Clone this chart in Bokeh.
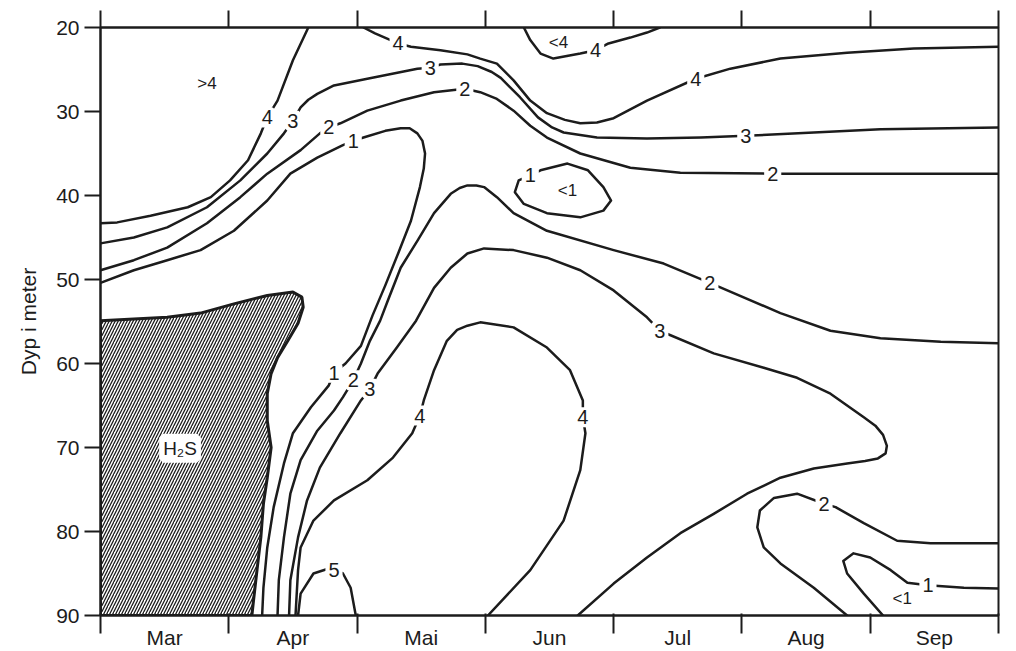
from bokeh.plotting import figure
from bokeh.models import Range1d, FixedTicker, LinearAxis, ColumnDataSource, LabelSet, Label
from bokeh.core.properties import value
from bokeh.embed import file_html
from bokeh.resources import INLINE

# ---------------- data ----------------
months = ["Mar", "Apr", "Mai", "Jun", "Jul", "Aug", "Sep"]
depth_ticks = [20, 30, 40, 50, 60, 70, 80, 90]

# isolines: x in months since 1 March (0..7), d = depth in metres
iso4_left_x = [1.62, 1.50, 1.38, 1.30, 1.25, 1.15, 1.01, 0.86, 0.68, 0.39, 0.13, 0.0]
iso4_left_d = [20.0, 23.9, 28.7, 30.7, 32.6, 35.8, 38.2, 40.2, 41.4, 42.4, 43.2, 43.3]

iso3_top_x = [0.0, 0.26, 0.52, 0.83, 1.09, 1.30, 1.43, 1.50, 1.56, 1.62, 1.69, 1.82, 2.08, 2.47, 2.57,
              2.65, 2.82, 2.94, 3.05, 3.12, 3.27, 3.41, 3.52, 3.61, 3.87, 4.26, 4.68, 5.03, 5.56, 6.08, 7.0]
iso3_top_d = [45.7, 45.0, 43.8, 41.4, 38.2, 35.0, 32.6, 31.1, 29.5, 28.6, 27.9, 26.9, 26.1, 24.9, 24.8,
              24.4, 24.3, 24.6, 25.3, 26.0, 28.3, 30.7, 31.9, 32.5, 33.1, 33.2, 33.1, 32.9, 32.5, 32.1, 31.9]

iso2_top_x = [0.0, 0.26, 0.52, 0.83, 1.09, 1.30, 1.56, 1.71, 1.78, 1.87, 2.08, 2.34, 2.60, 2.84,
              2.96, 3.09, 3.22, 3.35, 3.48, 3.74, 4.13, 4.52, 5.24, 7.0]
iso2_top_d = [48.9, 47.7, 46.2, 43.3, 40.2, 37.4, 34.6, 32.6, 31.9, 31.4, 29.9, 28.7, 27.7, 27.3,
              27.7, 28.5, 29.9, 31.7, 33.1, 35.0, 36.7, 37.3, 37.4, 37.4]

iso1_big_x = [0.0, 0.26, 0.52, 0.78, 1.04, 1.30, 1.48, 1.69, 1.89, 1.97, 2.05, 2.22, 2.34, 2.41, 2.47,
              2.51, 2.53, 2.52, 2.49, 2.42, 2.32, 2.22, 2.12, 2.03, 1.91, 1.82, 1.78, 1.64, 1.50,
              1.43, 1.35, 1.30, 1.27, 1.26]
iso1_big_d = [50.4, 48.9, 47.7, 46.5, 44.2, 40.6, 37.4, 35.5, 34.0, 33.5, 33.1, 32.3, 32.0, 32.0, 32.6,
              33.5, 35.0, 36.8, 39.0, 43.0, 46.9, 50.7, 54.3, 57.9, 60.0, 61.1, 62.6, 65.2, 68.3,
              71.9, 77.1, 81.9, 86.7, 90.0]

iso2_mid_x = [1.38, 1.39, 1.43, 1.48, 1.56, 1.69, 1.82, 1.89, 1.97, 2.03, 2.10, 2.18, 2.24, 2.34,
              2.47, 2.60, 2.73, 2.80, 2.86, 2.93, 2.99, 3.09, 3.22, 3.48, 4.00, 4.39, 4.75, 5.30, 5.69, 6.08,
              6.55, 7.0]
iso2_mid_d = [90.0, 85.8, 80.7, 75.5, 71.5, 68.0, 65.6, 64.0, 62.0, 60.0, 57.3, 54.9, 52.5, 48.6,
              45.4, 42.1, 39.8, 39.1, 38.8, 38.8, 39.0, 40.2, 42.1, 44.2, 46.5, 48.1, 50.4, 54.0, 56.1, 57.0,
              57.4, 57.6]

iso3_mid_x = [1.47, 1.48, 1.54, 1.61, 1.71, 1.87, 2.03, 2.10, 2.16, 2.31, 2.46, 2.60, 2.73, 2.86,
              2.99, 3.22, 3.48, 3.74, 4.00, 4.26, 4.36, 4.78, 5.17, 5.43, 5.69, 5.95, 6.04, 6.10, 6.13,
              6.12, 6.06, 5.96, 5.82, 5.56, 5.30, 5.04, 4.78, 4.52, 4.26, 4.00, 3.72]
iso3_mid_d = [90.0, 85.8, 80.7, 76.3, 72.4, 68.3, 64.4, 63.0, 61.2, 58.1, 54.9, 51.0, 48.6, 46.9,
              46.3, 46.5, 47.4, 48.9, 51.3, 54.5, 56.1, 58.8, 60.5, 61.7, 63.6, 66.4, 67.4, 68.5, 69.8,
              70.7, 71.3, 71.6, 71.9, 72.5, 73.6, 75.5, 77.9, 80.2, 83.1, 86.2, 90.0]

iso4_low_x = [1.52, 1.54, 1.56, 1.66, 1.82, 2.08, 2.28, 2.43, 2.49, 2.52, 2.60, 2.70, 2.78, 2.86, 2.96,
              3.22, 3.48, 3.66, 3.76, 3.76, 3.78, 3.74, 3.61, 3.35, 3.02]
iso4_low_d = [90.0, 84.6, 81.9, 78.7, 76.3, 73.9, 71.2, 68.3, 66.2, 64.4, 60.8, 57.3, 56.0, 55.5, 55.1,
              55.7, 58.1, 60.8, 64.4, 66.4, 68.3, 72.7, 78.7, 84.6, 90.0]

iso5_x = [1.54, 1.56, 1.66, 1.78, 1.82, 1.89, 1.95, 1.99]
iso5_d = [90.0, 87.4, 85.0, 84.4, 84.5, 85.0, 86.7, 90.0]

iso4_top_x = [2.05, 2.14, 2.32, 2.42, 2.65, 2.86, 2.96, 3.09, 3.22, 3.35, 3.48, 3.62, 3.74, 3.87, 4.00, 4.26,
              4.64, 4.91, 5.30, 5.82, 6.34, 7.0]
iso4_top_d = [20.0, 20.7, 21.9, 22.3, 22.7, 23.2, 23.7, 24.3, 26.3, 28.7, 30.2, 31.0, 31.4, 31.3, 30.8, 28.7,
              26.1, 24.9, 23.7, 23.0, 22.5, 22.3]

iso4_pocket_x = [3.30, 3.35, 3.43, 3.53, 3.74, 3.86, 3.96, 4.13, 4.26, 4.36]
iso4_pocket_d = [20.0, 21.5, 23.1, 23.7, 23.1, 22.7, 21.9, 21.2, 20.6, 20.0]

iso1_loop_x = [3.35, 3.43, 3.64, 3.80, 3.92, 3.98, 3.92, 3.74, 3.48, 3.30, 3.23, 3.26, 3.35]
iso1_loop_d = [37.6, 37.0, 36.2, 37.0, 39.0, 40.6, 41.8, 42.6, 42.1, 41.0, 39.6, 38.2, 37.6]

iso2_aug_x = [5.82, 5.56, 5.30, 5.17, 5.12, 5.14, 5.25, 5.43, 5.64, 5.73, 5.95, 6.21, 6.47, 7.0]
iso2_aug_d = [90.0, 86.7, 83.8, 81.9, 79.5, 77.5, 76.0, 75.5, 76.7, 77.1, 79.0, 81.1, 81.4, 81.4]

iso1_sep_x = [6.10, 5.95, 5.82, 5.79, 5.87, 6.00, 6.16, 6.29, 6.45, 6.73, 7.0]
iso1_sep_d = [90.0, 87.4, 85.0, 83.5, 82.6, 83.1, 84.6, 86.1, 86.4, 86.7, 86.8]

h2s_x = [0.0, 0.52, 0.78, 1.04, 1.30, 1.50, 1.57, 1.58, 1.54, 1.46, 1.38, 1.33, 1.30, 1.30, 1.33,
         1.30, 1.27, 1.25, 1.22, 1.19, 1.18, 0.0]
h2s_d = [54.9, 54.5, 54.0, 52.9, 51.9, 51.5, 52.1, 53.3, 55.2, 57.3, 59.3, 61.2, 63.6, 66.8, 70.0,
         73.6, 76.7, 80.7, 84.6, 88.6, 90.0, 90.0]

iso_label_text = ["4", "3", "2", "1", "4", "3", "2", "4", "4", "3", "2", "1", "2", "3",
                  "1", "2", "3", "4", "4", "5", "2", "1"]
iso_label_x = [1.30, 1.50, 1.78, 1.97, 2.32, 2.57, 2.84, 3.86, 4.64, 5.03, 5.24, 3.35, 4.75, 4.36,
               1.82, 1.97, 2.10, 2.49, 3.76, 1.82, 5.64, 6.45]
iso_label_d = [30.7, 31.1, 31.9, 33.5, 21.9, 24.8, 27.3, 22.7, 26.1, 32.9, 37.4, 37.6, 50.4, 56.1,
               61.1, 62.0, 63.0, 66.2, 66.4, 84.6, 76.7, 86.4]

zone_text = [">4", "<4", "<1", "<1"]
zone_x = [0.83, 3.57, 3.64, 6.25]
zone_d = [26.7, 21.8, 39.4, 88.0]

# ---------------- figure ----------------
FONT = "Liberation Sans"
INK = "#1c1c1c"

p = figure(width=1010, height=651, min_border_left=100, min_border_right=12,
           min_border_top=27, min_border_bottom=35,
           x_range=Range1d(0, 7), y_range=Range1d(90, 20),
           toolbar_location=None, output_backend="svg",
           background_fill_color="white", border_fill_color="white")
p.grid.visible = False
p.outline_line_color = INK
p.outline_line_width = 2

# bottom axis: month labels between ticks
bx = p.xaxis[0]
bx.ticker = FixedTicker(ticks=[i + 0.5 for i in range(len(months))],
                        minor_ticks=list(range(len(months) + 1)))
bx.major_label_overrides = {i + 0.5: m for i, m in enumerate(months)}
bx.major_tick_out = 0
bx.major_tick_in = 0
bx.minor_tick_out = 18
bx.minor_tick_in = 2
bx.minor_tick_line_width = 2
bx.minor_tick_line_color = INK
bx.axis_line_width = 2
bx.axis_line_color = INK
bx.major_label_standoff = -8
bx.major_label_text_font = FONT
bx.major_label_text_font_size = "21px"
bx.major_label_text_color = INK

# top axis: ticks only
tx = LinearAxis(ticker=FixedTicker(ticks=[], minor_ticks=list(range(len(months) + 1))))
tx.major_tick_out = 0
tx.major_tick_in = 0
tx.minor_tick_out = 17
tx.minor_tick_in = 0
tx.minor_tick_line_width = 2
tx.minor_tick_line_color = INK
tx.axis_line_width = 2
tx.axis_line_color = INK
tx.major_label_text_font_size = "0px"
tx.major_label_standoff = 0
p.add_layout(tx, "above")

# left axis
ly = p.yaxis[0]
ly.ticker = FixedTicker(ticks=depth_ticks)
ly.major_tick_out = 16
ly.major_tick_in = 0
ly.minor_tick_out = 0
ly.minor_tick_in = 0
ly.major_tick_line_width = 2
ly.major_tick_line_color = INK
ly.axis_line_width = 2
ly.axis_line_color = INK
ly.major_label_standoff = 5
ly.major_label_text_font = FONT
ly.major_label_text_font_size = "21px"
ly.major_label_text_color = INK
ly.axis_label = "Dyp i meter"
ly.axis_label_text_font = FONT
ly.axis_label_text_font_size = "21px"
ly.axis_label_text_font_style = "normal"
ly.axis_label_text_color = INK
ly.axis_label_standoff = 13

# H2S hatched zone
p.patch(h2s_x, h2s_d, fill_color="white", line_color=INK, line_width=3,
        hatch_pattern="/", hatch_color=INK, hatch_scale=6, hatch_weight=1.3)

# isolines
lines = [(iso4_left_x, iso4_left_d), (iso3_top_x, iso3_top_d), (iso2_top_x, iso2_top_d),
         (iso1_big_x, iso1_big_d), (iso2_mid_x, iso2_mid_d), (iso3_mid_x, iso3_mid_d),
         (iso4_low_x, iso4_low_d), (iso5_x, iso5_d), (iso4_top_x, iso4_top_d),
         (iso4_pocket_x, iso4_pocket_d), (iso1_loop_x, iso1_loop_d), (iso2_aug_x, iso2_aug_d),
         (iso1_sep_x, iso1_sep_d)]
for xs, ds in lines:
    p.line(xs, ds, line_color=INK, line_width=2.5, line_join="round", line_cap="round")

# isoline labels with white background (gap in the line)
lab_src = ColumnDataSource(dict(x=iso_label_x, d=iso_label_d, t=iso_label_text))
p.add_layout(LabelSet(x="x", y="d", text="t", source=lab_src, text_align="center",
                      text_baseline="middle", text_font=value(FONT),
                      text_font_size=value("20px"), text_color=INK,
                      background_fill_color="white", border_line_color="white",
                      border_line_width=6))

zone_src = ColumnDataSource(dict(x=zone_x, d=zone_d, t=zone_text))
p.add_layout(LabelSet(x="x", y="d", text="t", source=zone_src, text_align="center",
                      text_baseline="middle", text_font=value(FONT),
                      text_font_size=value("17px"), text_color=INK))

p.add_layout(Label(x=0.62, y=70.1, text="H₂S", text_align="center", text_baseline="middle",
                   text_font=FONT, text_font_size="19px", text_color=INK,
                   background_fill_color="white", border_line_color="white",
                   border_line_width=8))

open("out.html", "w").write(file_html(p, INLINE))
